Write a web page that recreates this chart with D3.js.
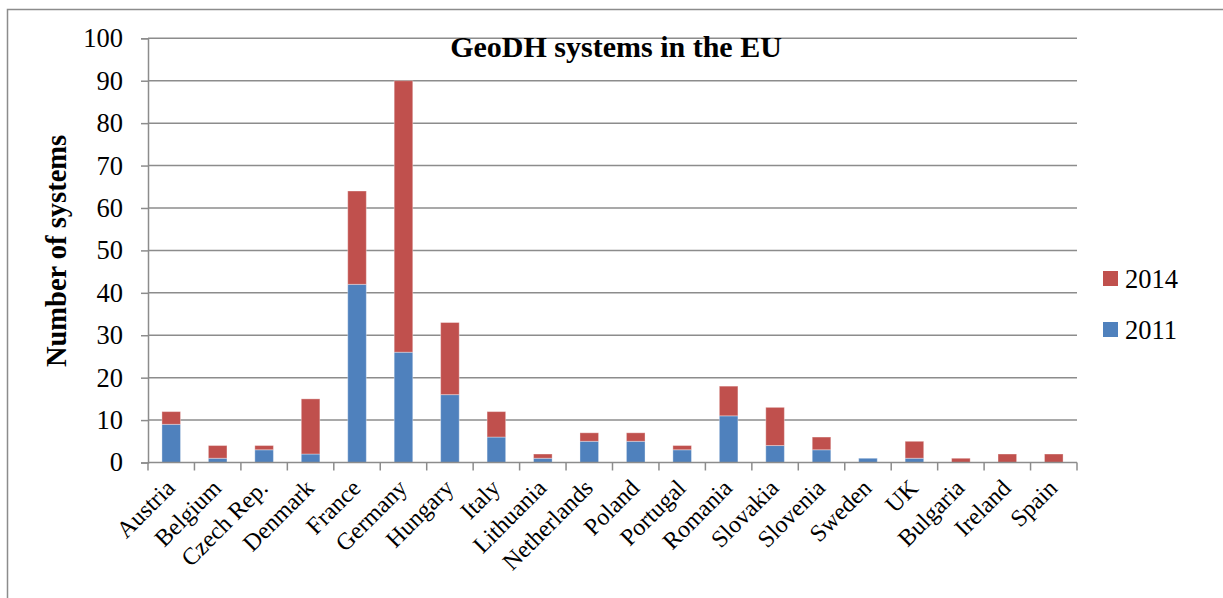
<!DOCTYPE html>
<html>
<head>
<meta charset="utf-8">
<script src="https://cdn.jsdelivr.net/npm/d3@7"></script>
<style>
  html, body { margin: 0; padding: 0; background: #fff; }
  svg { display: block; }
  text { font-family: "Liberation Serif", "DejaVu Serif", serif; fill: #000; }
</style>
</head>
<body>
<svg id="chart" width="1223" height="598"></svg>
<script>
// Geothermal district heating systems per country
const countries = ["Austria", "Belgium", "Czech Rep.", "Denmark", "France", "Germany", "Hungary",
  "Italy", "Lithuania", "Netherlands", "Poland", "Portugal", "Romania", "Slovakia", "Slovenia",
  "Sweden", "UK", "Bulgaria", "Ireland", "Spain"];
// systems existing in 2011
const systems2011 = [9, 1, 3, 2, 42, 26, 16, 6, 1, 5, 5, 3, 11, 4, 3, 1, 1, 0, 0, 0];
// systems added by 2014 (stacked on top of 2011)
const added2014 = [3, 3, 1, 13, 22, 64, 17, 6, 1, 2, 2, 1, 7, 9, 3, 0, 4, 1, 2, 2];
const yTicks = [0, 10, 20, 30, 40, 50, 60, 70, 80, 90, 100];
const seriesNames = ["2011", "2014"];
const seriesColors = ["#4F81BD", "#C0504D"];

const svg = d3.select("#chart");
const plot = { left: 148, top: 38.3, right: 1077, bottom: 462.5 };
const axisColor = "#8c8c8c";

// outer chart frame
svg.append("rect")
  .attr("x", 7.5).attr("y", 9.5).attr("width", 1220).attr("height", 600)
  .attr("fill", "none").attr("stroke", axisColor).attr("stroke-width", 1.5);

const x = d3.scaleBand().domain(countries).range([plot.left, plot.right]).paddingInner(0.6).paddingOuter(0.3);
const y = d3.scaleLinear().domain([0, 100]).range([plot.bottom, plot.top]);

// horizontal gridlines
svg.append("g").selectAll("line").data(yTicks.filter(d => d > 0)).join("line")
  .attr("x1", plot.left).attr("x2", plot.right)
  .attr("y1", d => y(d)).attr("y2", d => y(d))
  .attr("stroke", axisColor).attr("stroke-width", 1.5);

// stacked bars
const rows = countries.map((c, i) => ({ country: c, "2011": systems2011[i], "2014": added2014[i] }));
const stack = d3.stack().keys(seriesNames)(rows);
svg.append("g").selectAll("g").data(stack).join("g")
  .attr("fill", (d, i) => seriesColors[i])
  .selectAll("rect").data(d => d).join("rect")
  .filter(d => d[1] - d[0] > 0)
  .attr("x", d => x(d.data.country))
  .attr("width", x.bandwidth())
  .attr("y", d => y(d[1]))
  .attr("height", d => y(d[0]) - y(d[1]))
  .attr("stroke", "rgba(255,255,255,0.35)").attr("stroke-width", 1);

// y axis
const yAxis = svg.append("g").attr("transform", `translate(${plot.left},0)`)
  .call(d3.axisLeft(y).tickValues(yTicks).tickSize(7).tickPadding(18).tickFormat(d3.format("d")));
yAxis.select(".domain").attr("stroke", axisColor).attr("stroke-width", 1.5);
yAxis.selectAll(".tick line").attr("stroke", axisColor).attr("stroke-width", 1.5);
yAxis.selectAll(".tick text").attr("font-size", 26.5).attr("font-family", "Liberation Serif").attr("fill", "#000");

// x axis with ticks on category boundaries
const boundaries = d3.range(countries.length + 1).map(i => plot.left + i * (plot.right - plot.left) / countries.length);
svg.append("line").attr("x1", plot.left).attr("x2", plot.right)
  .attr("y1", plot.bottom).attr("y2", plot.bottom)
  .attr("stroke", axisColor).attr("stroke-width", 1.5);
svg.append("g").selectAll("line").data(boundaries).join("line")
  .attr("x1", d => d).attr("x2", d => d)
  .attr("y1", plot.bottom).attr("y2", plot.bottom + 8)
  .attr("stroke", axisColor).attr("stroke-width", 1.5);

// rotated category labels
svg.append("g").selectAll("text").data(countries).join("text")
  .attr("transform", d => `translate(${x(d) + x.bandwidth() / 2 + 5},${plot.bottom + 27}) rotate(-45)`)
  .attr("text-anchor", "end")
  .attr("font-size", 24)
  .text(d => d);

// title
svg.append("text").attr("x", 616).attr("y", 57).attr("text-anchor", "middle")
  .attr("font-size", 30).attr("font-weight", "bold").text("GeoDH systems in the EU");

// y axis title
svg.append("text").attr("transform", "translate(66,251) rotate(-90)").attr("text-anchor", "middle")
  .attr("font-size", 28.5).attr("font-weight", "bold").text("Number of systems");

// legend
const legend = svg.append("g").selectAll("g").data(["2014", "2011"]).join("g")
  .attr("transform", (d, i) => `translate(1103,${271 + i * 51})`);
legend.append("rect").attr("width", 15).attr("height", 15)
  .attr("fill", d => seriesColors[seriesNames.indexOf(d)]);
legend.append("text").attr("x", 22).attr("y", 16.5).attr("font-size", 26.5).text(d => d);
</script>
</body>
</html>
